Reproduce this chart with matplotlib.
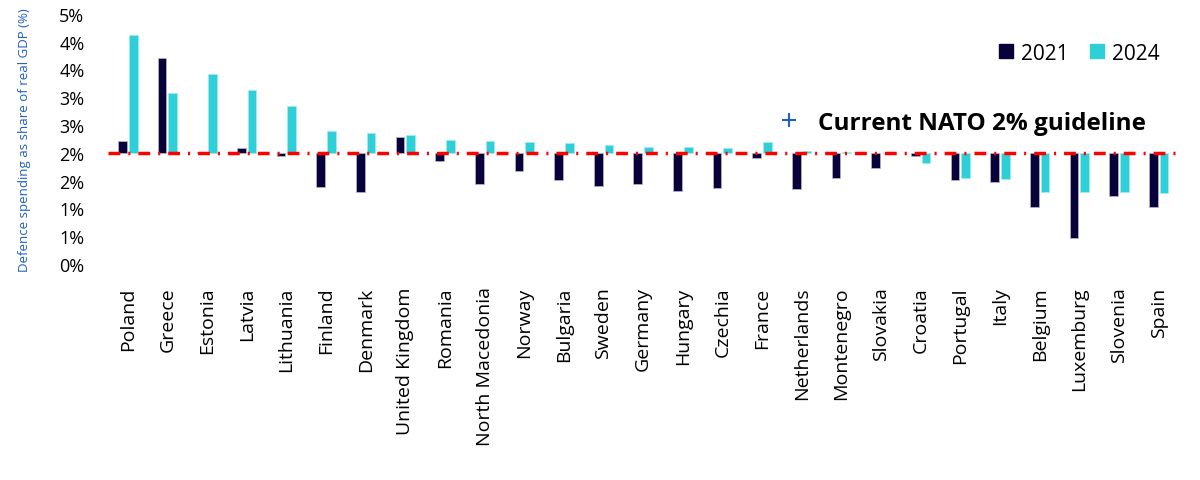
import numpy as np
import matplotlib
matplotlib.use("Agg")
import matplotlib.pyplot as plt
from matplotlib.lines import Line2D

countries = ["Poland", "Greece", "Estonia", "Latvia", "Lithuania", "Finland", "Denmark",
             "United Kingdom", "Romania", "North Macedonia", "Norway", "Bulgaria", "Sweden",
             "Germany", "Hungary", "Czechia", "France", "Netherlands", "Montenegro", "Slovakia",
             "Croatia", "Portugal", "Italy", "Belgium", "Luxemburg", "Slovenia", "Spain"]
v2021 = [2.22, 3.70, 2.02, 2.08, 1.95, 1.39, 1.30, 2.28, 1.85, 1.44, 1.67, 1.51, 1.41,
         1.44, 1.32, 1.37, 1.90, 1.35, 1.54, 1.73, 1.94, 1.51, 1.48, 1.03, 0.46, 1.23, 1.03]
v2024 = [4.12, 3.08, 3.42, 3.14, 2.84, 2.40, 2.36, 2.32, 2.24, 2.22, 2.20, 2.18, 2.14,
         2.11, 2.10, 2.09, 2.20, 2.03, 2.01, 2.00, 1.81, 1.54, 1.53, 1.30, 1.29, 1.29, 1.27]
guideline = 2.0
ytick_vals = [0, 0.5, 1.0, 1.5, 2.0, 2.5, 3.0, 3.5, 4.0, 4.5]
ytick_labels = ["0%", "1%", "1%", "2%", "2%", "3%", "3%", "4%", "4%", "5%"]
series_names = ["2021", "2024"]
guide_label = "Current NATO 2% guideline"

plt.rcParams["font.family"] = ["Open Sans", "DejaVu Sans"]

c21 = "#07023a"
c24 = "#2ecfd6"

fig = plt.figure(figsize=(12, 4.81), dpi=100)
ax = fig.add_axes([0.09, 0.449, 0.892, 0.52])

n = len(countries)
x = np.arange(n)
w = 0.22
off = 0.135
ax.bar(x - off, np.array(v2021) - guideline, bottom=guideline, width=w, color=c21,
       edgecolor="#b8b6d0", linewidth=0.5, zorder=2)
ax.bar(x + off, np.array(v2024) - guideline, bottom=guideline, width=w, color=c24,
       edgecolor="#9eeef0", linewidth=0.5, zorder=2)
ax.axhline(guideline, color="#ff0000", lw=2.5,
           linestyle=(0, (3.4, 2.3, 0.6, 2.3)), zorder=3)

ax.set_xlim(-0.5, n - 0.5)
ax.set_ylim(0, 4.5)
ax.set_yticks(ytick_vals)
ax.set_yticklabels(ytick_labels, fontsize=13)
ax.set_xticks(x)
ax.set_xticklabels(countries, rotation=90, fontsize=14)
ax.tick_params(axis="both", length=0)
ax.tick_params(axis="x", pad=16)
ax.tick_params(axis="y", pad=17)
for s in ax.spines.values():
    s.set_visible(False)

ax.set_ylabel("Defence spending as share of real GDP (%)", color="#1f5fc4", fontsize=9.5, labelpad=20)

h1 = [Line2D([], [], color=c21, marker="s", linestyle="none", markersize=9.5),
      Line2D([], [], color=c24, marker="s", linestyle="none", markersize=9.5)]
leg1 = ax.legend(h1, series_names, loc="upper right", bbox_to_anchor=(1.0, 0.96), ncol=2,
                 frameon=False, fontsize=15, handlelength=0.8,
                 handletextpad=0.3, columnspacing=1.0)
ax.add_artist(leg1)
h2 = [Line2D([], [], color="#1f5fc4", marker="+", linestyle="none", markersize=10, markeredgewidth=1.5)]
leg2 = ax.legend(h2, [guide_label], loc="upper right", bbox_to_anchor=(0.99, 0.70),
                 frameon=False, prop={"size": 17.5, "weight": "bold"}, handletextpad=0.2)

fig.savefig("out.png", dpi=100)
